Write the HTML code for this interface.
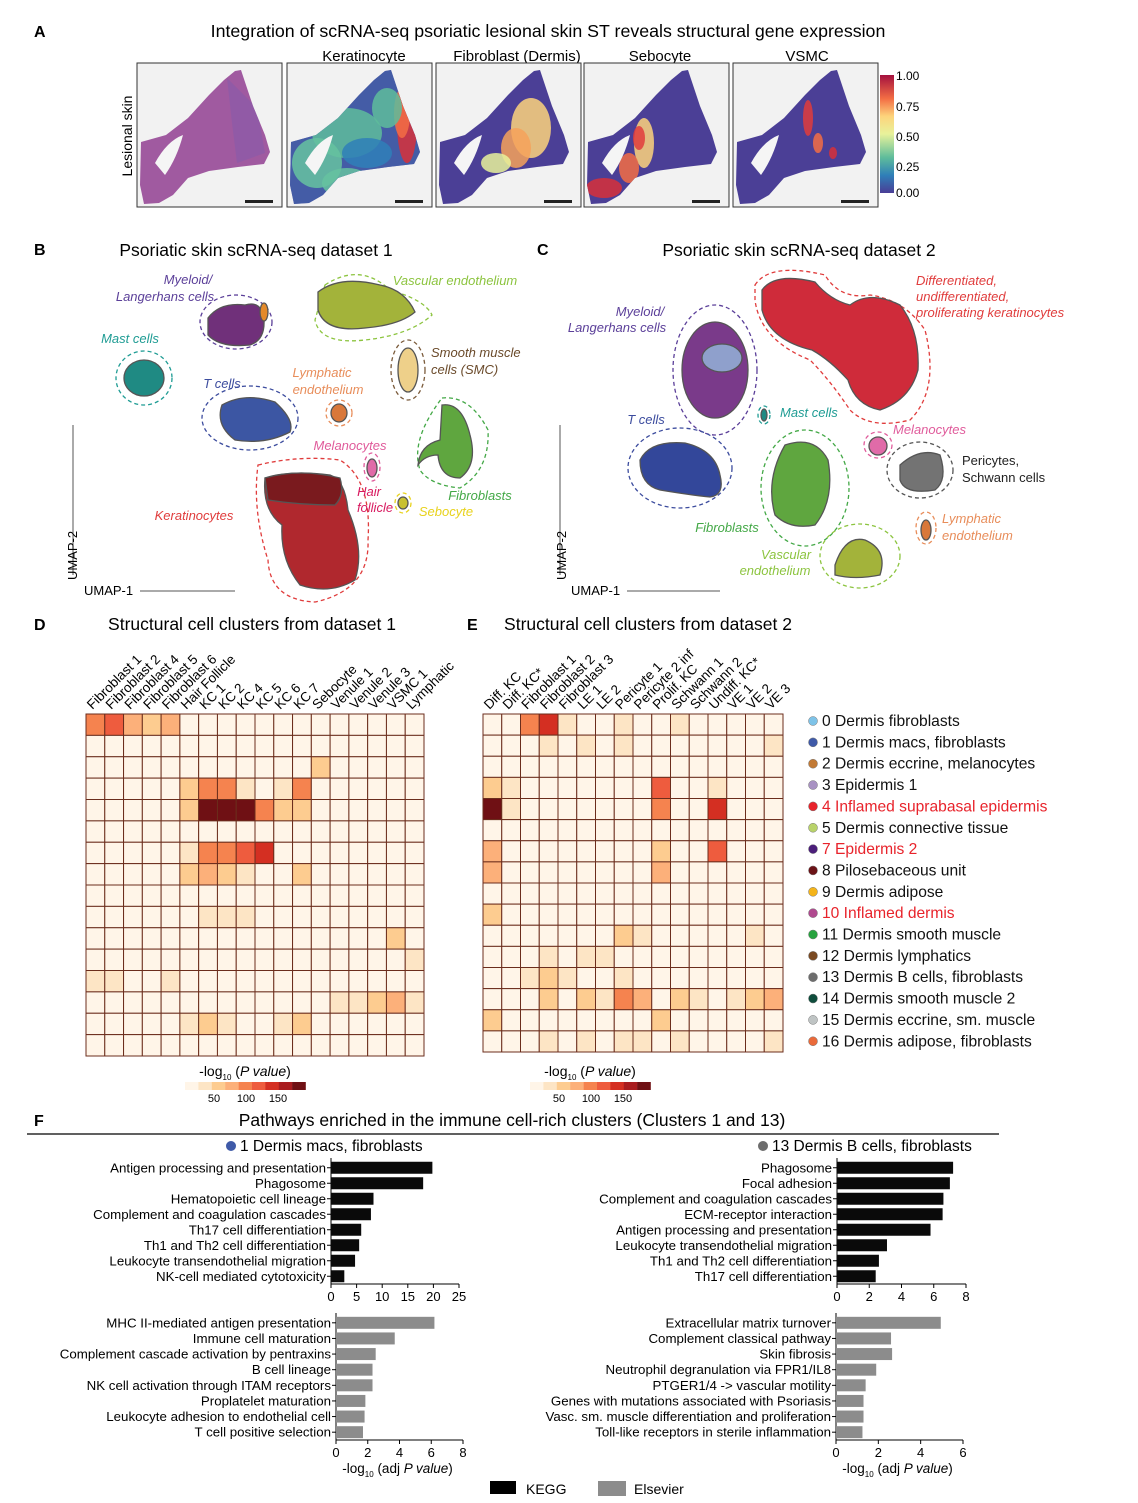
<!DOCTYPE html>
<html><head><meta charset="utf-8">
<style>
body{margin:0;background:#fff;width:1138px;height:1503px;overflow:hidden;font-family:"Liberation Sans",Arial,sans-serif;}
svg{position:absolute;left:0;top:0;}
text{font-family:"Liberation Sans",Arial,sans-serif;}
</style></head>
<body>
<svg id="fig" width="1138" height="1503" viewBox="0 0 1138 1503">
<defs>
<clipPath id="tis"><path d="M98,8 L104,7 L116,43 L128,72 L133,89 L127,101 L101,104 L72,108 L51,115 L36,132 L22,140 L7,141 L3,122 L4,79 L29,72 L51,55 L72,32 L87,17 Z"/></clipPath>
</defs>
<text x="34" y="37" font-size="16" font-weight="bold">A</text>
<text x="548" y="37" font-size="17.8" text-anchor="middle">Integration of scRNA-seq  psoriatic lesional skin ST reveals structural gene expression</text>
<text x="364" y="61" font-size="15" text-anchor="middle">Keratinocyte</text>
<text x="517" y="61" font-size="15" text-anchor="middle">Fibroblast (Dermis)</text>
<text x="660" y="61" font-size="15" text-anchor="middle">Sebocyte</text>
<text x="807" y="61" font-size="15" text-anchor="middle">VSMC</text>
<text x="132" y="136" font-size="14" text-anchor="middle" transform="rotate(-90 132 136)">Lesional skin</text>
<g id="stpanels"></g>
<defs><linearGradient id="spec" x1="0" y1="1" x2="0" y2="0">
<stop offset="0" stop-color="#4a3d96"/><stop offset="0.15" stop-color="#2f7fb8"/><stop offset="0.3" stop-color="#5ebc9b"/><stop offset="0.5" stop-color="#e8f29b"/><stop offset="0.65" stop-color="#fdd47c"/><stop offset="0.8" stop-color="#f36d44"/><stop offset="1" stop-color="#a4113f"/></linearGradient></defs>
<rect x="880" y="75" width="14" height="118" fill="url(#spec)"/>
<g font-size="12">
<text x="896" y="80">1.00</text><text x="896" y="111">0.75</text><text x="896" y="141">0.50</text><text x="896" y="171">0.25</text><text x="896" y="197">0.00</text>
</g>
<text x="34" y="255" font-size="16" font-weight="bold">B</text>
<text x="256" y="256" font-size="17.5" text-anchor="middle">Psoriatic skin scRNA-seq dataset 1</text>
<text x="537" y="255" font-size="16" font-weight="bold">C</text>
<text x="799" y="256" font-size="17.5" text-anchor="middle">Psoriatic skin scRNA-seq dataset 2</text>
<g stroke-width="1.3">
 <g fill="none" stroke-dasharray="4,3">
  <ellipse cx="236" cy="322" rx="36" ry="27" stroke="#5b3f99"/>
  <path d="M325,285 Q360,262 390,290 Q425,300 432,315 Q410,335 365,340 Q320,345 315,320 Z" stroke="#8cc43f"/>
  <ellipse cx="144" cy="378" rx="28" ry="27" stroke="#1f9c94"/>
  <ellipse cx="408" cy="370" rx="17" ry="30" stroke="#7a5a3a"/>
  <ellipse cx="339" cy="413" rx="13" ry="13" stroke="#e88d5a"/>
  <ellipse cx="250" cy="418" rx="48" ry="32" stroke="#3c4c9e"/>
  <path d="M442,398 Q470,395 488,430 Q490,470 460,488 Q430,485 420,470 Q410,440 442,398 Z" stroke="#43a846"/>
  <ellipse cx="372" cy="467" rx="8" ry="14" stroke="#e05b9b"/>
  <path d="M258,465 Q300,455 340,460 Q372,480 368,540 Q370,590 315,602 Q270,600 268,560 Q252,510 258,465 Z" stroke="#e03c3c"/>
  <ellipse cx="403" cy="503" rx="8" ry="10" stroke="#e8d21c"/>
 </g>
 <g stroke="#555">
  <path d="M208,318 Q220,302 245,305 Q262,300 264,320 Q265,340 250,345 Q220,348 208,335 Z" fill="#70307a"/>
  <ellipse cx="264" cy="312" rx="4" ry="9" fill="#e48a2a"/>
  <path d="M318,292 Q340,275 380,285 Q405,290 415,312 Q400,325 365,328 Q325,333 318,310 Z" fill="#a3b33a"/>
  <ellipse cx="144" cy="378" rx="20" ry="18" fill="#1f8a83"/>
  <ellipse cx="408" cy="370" rx="10" ry="22" fill="#eed08a"/>
  <ellipse cx="339" cy="413" rx="8" ry="9" fill="#d9783a"/>
  <path d="M222,405 Q245,392 275,402 Q295,420 290,432 Q265,445 235,440 Q215,425 222,405 Z" fill="#3c56a3"/>
  <path d="M442,405 Q462,402 470,435 Q478,465 460,478 Q440,478 438,455 Q425,455 418,465 Q420,445 440,440 Z" fill="#5fa63f"/>
  <ellipse cx="372" cy="468" rx="5" ry="9" fill="#e06ba8"/>
  <path d="M265,478 Q290,470 330,475 Q345,480 348,510 Q365,550 355,580 Q330,595 300,585 Q280,560 282,525 Q262,510 265,478 Z" fill="#b0282e"/>
  <path d="M265,478 Q300,468 340,478 Q345,495 335,505 Q300,505 268,500 Z" fill="#7a1a1e"/>
  <ellipse cx="403" cy="503" rx="5" ry="6" fill="#c8c030"/>
 </g>
</g>
<g font-size="13" font-style="italic">
<text x="188" y="284" fill="#5b3f99" text-anchor="middle">Myeloid/</text>
<text x="165" y="301" fill="#5b3f99" text-anchor="middle">Langerhans cells</text>
<text x="455" y="285" fill="#8cc43f" text-anchor="middle">Vascular endothelium</text>
<text x="130" y="343" fill="#1f9c94" text-anchor="middle">Mast cells</text>
<text x="431" y="357" fill="#6a4a2a">Smooth muscle</text>
<text x="431" y="374" fill="#6a4a2a">cells (SMC)</text>
<text x="322" y="377" fill="#e88d5a" text-anchor="middle">Lymphatic</text>
<text x="328" y="394" fill="#e88d5a" text-anchor="middle">endothelium</text>
<text x="222" y="388" fill="#3c4c9e" text-anchor="middle">T cells</text>
<text x="350" y="450" fill="#e05b9b" text-anchor="middle">Melanocytes</text>
<text x="369" y="496" fill="#d81b60" text-anchor="middle">Hair</text>
<text x="375" y="512" fill="#d81b60" text-anchor="middle">follicle</text>
<text x="480" y="500" fill="#43a846" text-anchor="middle">Fibroblasts</text>
<text x="446" y="516" fill="#e8d21c" text-anchor="middle">Sebocyte</text>
<text x="194" y="520" fill="#e03c3c" text-anchor="middle">Keratinocytes</text>
</g>
<line x1="73" y1="425" x2="73" y2="575" stroke="#555"/>
<text x="77" y="580" font-size="13" transform="rotate(-90 77 580)">UMAP-2</text>
<text x="84" y="595" font-size="13">UMAP-1</text>
<line x1="140" y1="591" x2="235" y2="591" stroke="#555"/>
<g stroke-width="1.3">
 <g fill="none" stroke-dasharray="4,3">
  <path d="M755,285 Q770,262 825,275 Q840,300 870,295 Q905,300 925,330 Q940,390 910,420 Q870,430 850,410 Q830,380 810,360 Q760,340 755,300 Z" stroke="#e03c3c"/>
  <ellipse cx="715" cy="370" rx="42" ry="65" stroke="#5b3f99"/>
  <ellipse cx="764" cy="415" rx="6" ry="9" stroke="#1f9c94"/>
  <ellipse cx="680" cy="468" rx="52" ry="40" stroke="#3c4c9e"/>
  <ellipse cx="805" cy="488" rx="44" ry="58" stroke="#43a846"/>
  <ellipse cx="878" cy="445" rx="14" ry="13" stroke="#e05b9b"/>
  <ellipse cx="920" cy="470" rx="33" ry="28" stroke="#555"/>
  <ellipse cx="926" cy="528" rx="10" ry="16" stroke="#e88d5a"/>
  <ellipse cx="860" cy="556" rx="40" ry="32" stroke="#8cc43f"/>
 </g>
 <g stroke="#555">
  <path d="M762,290 Q775,272 815,282 Q830,300 850,305 Q870,290 900,305 Q920,330 918,370 Q910,400 880,410 Q855,405 848,380 Q830,360 812,350 Q770,340 762,310 Z" fill="#cf2b3a"/>
  <ellipse cx="715" cy="370" rx="33" ry="48" fill="#7a3a8a"/>
  <ellipse cx="722" cy="358" rx="20" ry="14" fill="#8fa0cc"/>
  <ellipse cx="764" cy="415" rx="3" ry="6" fill="#1f8a83"/>
  <path d="M640,460 Q650,440 685,443 Q715,450 720,475 Q725,495 710,497 Q690,495 660,490 Q640,485 640,460 Z" fill="#33479a"/>
  <path d="M785,445 Q815,435 828,460 Q835,500 815,525 Q790,530 775,515 Q765,480 785,445 Z" fill="#5fa63f"/>
  <ellipse cx="878" cy="446" rx="9" ry="9" fill="#e06ba8"/>
  <path d="M900,465 Q920,447 940,455 Q948,480 935,490 Q905,495 900,480 Z" fill="#737373"/>
  <ellipse cx="926" cy="530" rx="5" ry="10" fill="#d9783a"/>
  <path d="M835,565 Q845,535 865,540 Q888,550 880,575 Q855,580 835,575 Z" fill="#a3b33a"/>
 </g>
</g>
<g font-size="13" font-style="italic">
<text x="640" y="316" fill="#5b3f99" text-anchor="middle">Myeloid/</text>
<text x="617" y="332" fill="#5b3f99" text-anchor="middle">Langerhans cells</text>
<text x="916" y="285" fill="#e03c3c">Differentiated,</text>
<text x="916" y="301" fill="#e03c3c">undifferentiated,</text>
<text x="916" y="317" fill="#e03c3c">proliferating keratinocytes</text>
<text x="780" y="417" fill="#1f9c94">Mast cells</text>
<text x="646" y="424" fill="#3c4c9e" text-anchor="middle">T cells</text>
<text x="893" y="434" fill="#e05b9b">Melanocytes</text>
<text x="962" y="465" fill="#222" font-style="normal">Pericytes,</text>
<text x="962" y="482" fill="#222" font-style="normal">Schwann cells</text>
<text x="942" y="523" fill="#e88d5a">Lymphatic</text>
<text x="942" y="540" fill="#e88d5a">endothelium</text>
<text x="727" y="532" fill="#43a846" text-anchor="middle">Fibroblasts</text>
<text x="786" y="559" fill="#8cc43f" text-anchor="middle">Vascular</text>
<text x="775" y="575" fill="#8cc43f" text-anchor="middle">endothelium</text>
</g>
<line x1="560" y1="425" x2="560" y2="575" stroke="#555"/>
<text x="566" y="580" font-size="13" transform="rotate(-90 566 580)">UMAP-2</text>
<text x="571" y="595" font-size="13">UMAP-1</text>
<line x1="627" y1="591" x2="720" y2="591" stroke="#555"/>
<text x="34" y="630" font-size="16" font-weight="bold">D</text>
<text x="252" y="630" font-size="17.5" text-anchor="middle">Structural cell clusters from dataset 1</text>
<text x="467" y="630" font-size="16" font-weight="bold">E</text>
<text x="648" y="630" font-size="17.5" text-anchor="middle">Structural cell clusters from dataset 2</text>
<g id="heatD"></g><g id="heatE"></g><g id="legendE"></g>
<text x="34" y="1126" font-size="16" font-weight="bold">F</text>
<text x="512" y="1126" font-size="17.5" text-anchor="middle">Pathways enriched in the immune cell-rich clusters (Clusters 1 and 13)</text>
<line x1="27" y1="1134" x2="999" y2="1134" stroke="#000" stroke-width="1.2"/>
<circle cx="231" cy="1146" r="5" fill="#3f5aa8"/>
<text x="240" y="1151" font-size="15.5">1 Dermis macs, fibroblasts</text>
<circle cx="763" cy="1146" r="5" fill="#6d6d6d"/>
<text x="772" y="1151" font-size="15.5">13 Dermis B cells, fibroblasts</text>
<g id="bars"></g>
<rect x="490" y="1481" width="26" height="13" fill="#000"/>
<text x="526" y="1494" font-size="14">KEGG</text>
<rect x="598" y="1481" width="28" height="15" fill="#8c8c8c"/>
<text x="634" y="1494" font-size="14">Elsevier</text>
</svg>
<script>
const NS="http://www.w3.org/2000/svg";
function mk(tag,attrs,parent,txt){const e=document.createElementNS(NS,tag);for(const k in attrs)e.setAttribute(k,attrs[k]);if(txt!==undefined)e.textContent=txt;parent.appendChild(e);return e;}

const heatColors=["#fff5e8","#fde5c5","#fdcc90","#fcb07a","#f5834f","#ee5c3e","#d42f22","#a91c1f","#6f1014"];
const colsD=["Fibroblast 1","Fibroblast 2","Fibroblast 4","Fibroblast 5","Fibroblast 6","Hair Follicle","KC 1","KC 2","KC 4","KC 5","KC 6","KC 7","Sebocyte","Venule 1","Venule 2","Venule 3","VSMC 1","Lymphatic"];
const valsD=[
[4,5,3,2,3,0,0,0,0,0,0,0,0,0,0,0,0,0],
[0,0,0,0,0,0,0,0,0,0,0,0,0,0,0,0,0,0],
[0,0,0,0,0,0,0,0,0,0,0,0,2,0,0,0,0,0],
[0,0,0,0,0,2,4,4,1,0,1,4,0,0,0,0,0,0],
[0,0,0,0,0,2,8,8,8,4,2,2,0,0,0,0,0,0],
[0,0,0,0,0,0,0,0,0,0,0,0,0,0,0,0,0,0],
[0,0,0,0,0,1,4,4,5,6,0,0,0,0,0,0,0,0],
[0,0,0,0,0,2,3,2,1,0,0,2,0,0,0,0,0,0],
[0,0,0,0,0,0,0,0,0,0,0,0,0,0,0,0,0,0],
[0,0,0,0,0,0,1,1,1,0,0,0,0,0,0,0,0,0],
[0,0,0,0,0,0,0,0,0,0,0,0,0,0,0,0,2,0],
[0,0,0,0,0,0,0,0,0,0,0,0,0,0,0,0,0,1],
[1,1,0,0,1,0,0,0,0,0,0,0,0,0,0,0,0,0],
[0,0,0,0,0,0,0,0,0,0,0,0,0,1,1,2,3,1],
[0,0,0,0,0,1,2,1,0,0,1,2,0,0,0,0,0,0],
[0,0,0,0,0,0,0,0,0,0,0,0,0,0,0,0,0,0]];
const colsE=["Diff. KC","Diff. KC*","Fibroblast 1","Fibroblast 2","Fibroblast 3","LE 1","LE 2","Pericyte 1","Pericyte 2 inf","Prolif. KC","Schwann 1","Schwann 2","Undiff. KC*","VE 1","VE 2","VE 3"];
const valsE=[
[0,0,4,6,1,0,0,1,0,0,1,0,0,0,0,0],
[0,0,0,1,0,1,0,1,0,0,0,0,0,0,0,1],
[0,0,0,0,0,0,0,0,0,0,0,0,0,0,0,0],
[2,1,0,0,0,0,0,0,0,5,0,0,1,0,0,0],
[8,1,0,0,0,0,0,0,0,4,0,0,6,0,0,0],
[0,0,0,0,0,0,0,0,0,0,0,0,0,0,0,0],
[3,0,0,0,0,0,0,0,0,2,0,0,5,0,0,0],
[3,0,0,0,0,0,0,0,0,3,0,0,0,0,0,0],
[0,0,0,0,0,0,0,0,0,0,0,0,0,0,0,0],
[2,0,0,0,0,0,0,0,0,0,0,0,0,0,0,0],
[0,0,0,0,0,0,0,2,1,0,0,0,0,0,1,0],
[0,0,0,1,0,1,1,0,0,0,0,0,0,0,0,0],
[0,0,1,2,1,0,0,1,0,0,0,0,0,0,0,0],
[0,0,0,2,0,2,1,4,3,0,2,1,0,1,2,3],
[2,0,0,0,0,0,0,0,0,2,0,0,0,0,0,0],
[0,0,0,1,0,1,0,1,1,0,1,0,0,0,0,1]];
const cbTicks=["50","100","150"];

function heat(gid,cols,vals,x0,y0,W,H,cbx){
  const g=document.getElementById(gid);
  const nr=vals.length,nc=cols.length,cw=W/nc,ch=H/nr;
  vals.forEach((row,r)=>row.forEach((v,c)=>{
    const e=mk('rect',{x:x0+c*cw,y:y0+r*ch,width:cw,height:ch,fill:heatColors[v],stroke:'#6b2d1c','stroke-width':1},g);
    
    
  }));
  cols.forEach((l,c)=>{
    const x=x0+(c+0.5)*cw-3,y=y0-4;
    const t=mk('text',{x:x,y:y,'font-size':13.5,transform:`rotate(-45 ${x} ${y})`},g,l);
    
    
  });
  const t=mk('text',{x:cbx+60,y:1076,'font-size':14,'text-anchor':'middle'},g);
  
  
  mk('tspan',{},t,'-log');mk('tspan',{'font-size':8,dy:4},t,'10');mk('tspan',{dy:-4},t,' (');mk('tspan',{'font-style':'italic'},t,'P value');mk('tspan',{},t,')');
  heatColors.forEach((col,i)=>{
    const r=mk('rect',{x:cbx+i*13.4,y:1082,width:13.6,height:8,fill:col},g);
    
    
  });
  cbTicks.forEach((s,i)=>{mk('text',{x:cbx+29+i*32,y:1102,'font-size':11,'text-anchor':'middle'},g,s);});
}
heat('heatD',colsD,valsD,86,714,338,342,185);
heat('heatE',colsE,valsE,483,714,300,338,530);

const legLabels=["0 Dermis fibroblasts","1 Dermis macs, fibroblasts","2 Dermis eccrine, melanocytes","3 Epidermis 1","4 Inflamed suprabasal epidermis","5 Dermis connective tissue","7 Epidermis 2","8 Pilosebaceous unit","9 Dermis adipose","10 Inflamed dermis","11 Dermis smooth muscle","12 Dermis lymphatics","13 Dermis B cells, fibroblasts","14 Dermis smooth muscle 2","15 Dermis eccrine, sm. muscle","16 Dermis adipose, fibroblasts"];
const legDots=["#7ec3e8","#3f5aa8","#c27a35","#a892c2","#e8232b","#b9d36a","#4b1f7a","#6b1317","#f4b41a","#b0498f","#27a33f","#7a4a22","#6d6d6d","#0f4d3c","#bfc4c4","#ea6a3a"];
const legRed=[4,6,9];
const lg=document.getElementById('legendE');
legLabels.forEach((l,i)=>{
  const y=721+i*21.35;
  const c=mk('circle',{cx:813,cy:y,r:4.5,fill:legDots[i],stroke:'#777','stroke-width':0.5},lg);
  
  
  const t=mk('text',{x:822,y:y+5,'font-size':15.6,fill:legRed.includes(i)?'#e8232b':'#111'},lg,l);
  
  
});

const c1KeggTerms=["Antigen processing and presentation","Phagosome","Hematopoietic cell lineage","Complement and coagulation cascades","Th17 cell differentiation","Th1 and Th2 cell differentiation","Leukocyte transendothelial migration","NK-cell mediated cytotoxicity"];
const c1KeggVals=[19.8,18,8.3,7.8,5.9,5.5,4.7,2.6];
const c1KeggTicks=[0,5,10,15,20,25];
const c1ElsTerms=["MHC II-mediated antigen presentation","Immune cell maturation","Complement cascade activation by pentraxins","B cell lineage","NK cell activation through ITAM receptors","Proplatelet maturation","Leukocyte adhesion to endothelial cell","T cell positive selection"];
const c1ElsVals=[6.2,3.7,2.5,2.3,2.3,1.85,1.8,1.7];
const c1ElsTicks=[0,2,4,6,8];
const c13KeggTerms=["Phagosome","Focal adhesion","Complement and coagulation cascades","ECM-receptor interaction","Antigen processing and presentation","Leukocyte transendothelial migration","Th1 and Th2 cell differentiation","Th17 cell differentiation"];
const c13KeggVals=[7.2,7.0,6.6,6.55,5.8,3.1,2.6,2.4];
const c13KeggTicks=[0,2,4,6,8];
const c13ElsTerms=["Extracellular matrix turnover","Complement classical pathway","Skin fibrosis","Neutrophil degranulation via FPR1/IL8","PTGER1/4 -> vascular motility","Genes with mutations associated with Psoriasis","Vasc. sm. muscle differentiation and proliferation","Toll-like receptors in sterile inflammation"];
const c13ElsVals=[4.95,2.6,2.65,1.9,1.4,1.3,1.3,1.25];
const c13ElsTicks=[0,2,4,6];

const bg=document.getElementById('bars');
function bars(terms,vals,ticks,x0,x1,yTop,yAxis,color,xlab){
  const max=ticks[ticks.length-1];
  const sx=v=>x0+(x1-x0)*v/max;
  const n=terms.length,step=(yAxis-yTop)/n;
  mk('line',{x1:x0,y1:yTop-2,x2:x0,y2:yAxis,stroke:'#000','stroke-width':1},bg);
  mk('line',{x1:x0,y1:yAxis,x2:x1,y2:yAxis,stroke:'#000','stroke-width':1},bg);
  terms.forEach((t,i)=>{
    const cy=yTop+step*(i+0.5);
    const r=mk('rect',{x:x0,y:cy-6,width:sx(vals[i])-x0,height:12,fill:color},bg);
    
    
    mk('line',{x1:x0-4,y1:cy,x2:x0,y2:cy,stroke:'#000'},bg);
    const tx=mk('text',{x:x0-5,y:cy+4.5,'font-size':13.3,'text-anchor':'end'},bg,t);
    
    
  });
  ticks.forEach(v=>{
    mk('line',{x1:sx(v),y1:yAxis,x2:sx(v),y2:yAxis+4,stroke:'#000'},bg);
    mk('text',{x:sx(v),y:yAxis+17,'font-size':13,'text-anchor':'middle'},bg,String(v));
  });
  if(xlab){
    const t=mk('text',{x:(x0+x1)/2-2,y:yAxis+33,'font-size':13.5,'text-anchor':'middle'},bg);
    
    
    mk('tspan',{},t,'-log');mk('tspan',{'font-size':8,dy:4},t,'10');mk('tspan',{dy:-4},t,' (adj ');mk('tspan',{'font-style':'italic'},t,'P value');mk('tspan',{},t,')');
  }
}
bars(c1KeggTerms,c1KeggVals,c1KeggTicks,331,459,1160,1284,'#0a0a0a',false);
bars(c1ElsTerms,c1ElsVals,c1ElsTicks,336,463,1315,1440,'#8c8c8c',true);
bars(c13KeggTerms,c13KeggVals,c13KeggTicks,837,966,1160,1284,'#0a0a0a',false);
bars(c13ElsTerms,c13ElsVals,c13ElsTicks,836,963,1315,1440,'#8c8c8c',true);

const sp=document.getElementById('stpanels');
const panelX=[137,287,436,584,733];
const spots=[
 [],
 [[120,60,10,40,"#d7303a"],[115,50,8,25,"#f36d44"],[60,70,35,25,"#5ebc9b"],[30,100,25,25,"#66c2a0"],[80,90,25,15,"#2f7fb8"],[100,45,15,20,"#5ebc9b"],[60,120,25,15,"#66c2a0"]],
 [[95,65,20,30,"#fdd47c"],[80,85,15,20,"#f6a25a"],[60,100,15,10,"#e8f29b"]],
 [[60,80,10,25,"#fdd47c"],[55,75,6,12,"#e03c3c"],[20,125,18,10,"#d7303a"],[45,105,10,15,"#f36d44"]],
 [[75,55,5,18,"#e03c3c"],[85,80,5,10,"#f36d44"],[100,90,4,6,"#d7303a"]]
];
panelX.forEach((x,i)=>{
  const g=mk('g',{transform:`translate(${x},63)`},sp);
  
  
  mk('rect',{x:0,y:0,width:145,height:144,fill:'#f2f2f2',stroke:'#333','stroke-width':1},g);
  const inner=mk('g',{'clip-path':'url(#tis)'},g);
  mk('rect',{x:0,y:0,width:145,height:144,fill:i===0?'#a05aa0':'#4b3f96'},inner);
  if(i===0){mk('path',{d:'M90,15 L120,45 L128,90 L100,100 L95,60 Z',fill:'#8a5aa8',opacity:0.7},inner);}
  if(i===1){mk('rect',{x:0,y:0,width:145,height:144,fill:'#3f6fb0',opacity:0.6},inner);}
  spots[i].forEach(s=>mk('ellipse',{cx:s[0],cy:s[1],rx:s[2],ry:s[3],fill:s[4],opacity:0.85},inner));
  mk('path',{d:'M18,100 Q30,78 46,72 Q40,95 28,112 Z',fill:'#f5f5f5'},g);
  mk('rect',{x:108,y:137,width:28,height:3,fill:'#222'},g);
});
</script>
</body></html>
